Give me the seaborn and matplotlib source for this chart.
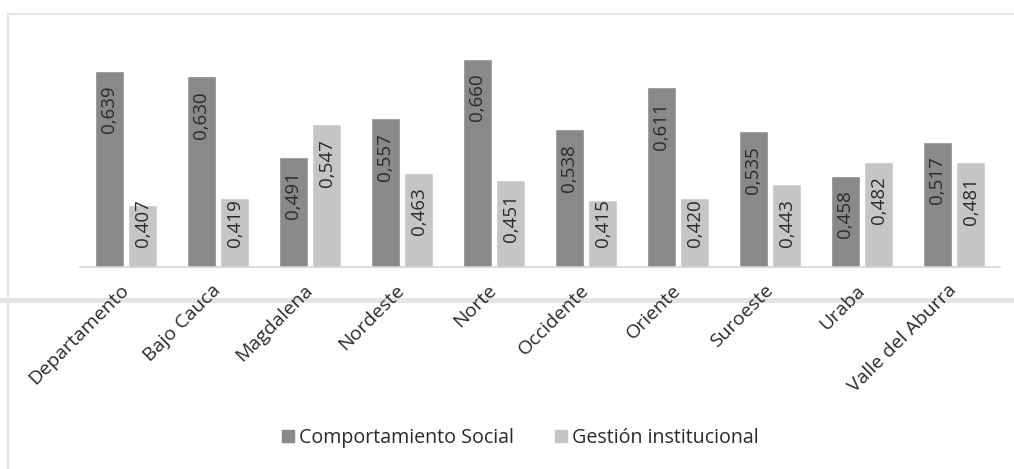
import matplotlib
matplotlib.use("Agg")
import matplotlib.pyplot as plt
import matplotlib.patches as mpatches
import matplotlib.lines as mlines
import pandas as pd
import seaborn as sns

# datos
regiones = ["Departamento", "Bajo Cauca", "Magdalena", "Nordeste", "Norte",
            "Occidente", "Oriente", "Suroeste", "Uraba", "Valle del Aburra"]
comportamiento = [0.639, 0.630, 0.491, 0.557, 0.660, 0.538, 0.611, 0.535, 0.458, 0.517]
gestion = [0.407, 0.419, 0.547, 0.463, 0.451, 0.415, 0.420, 0.443, 0.482, 0.481]
series = ["Comportamiento Social", "Gestión institucional"]

df = pd.DataFrame({
    "region": regiones * 2,
    "valor": comportamiento + gestion,
    "serie": [series[0]] * len(regiones) + [series[1]] * len(regiones),
})

sns.set_style("white")
plt.rcParams["font.family"] = ["Open Sans", "DejaVu Sans"]

fig = plt.figure(figsize=(10.14, 4.69), dpi=100)
ax = fig.add_axes([0.0789, 0.4313, 0.9073, 0.535])

sns.barplot(data=df, x="region", y="valor", hue="serie",
            palette=["#89898b", "#c5c5c5"], width=0.72, gap=0.1,
            saturation=1, ax=ax)

ax.set_ylim(0.3, 0.735)
ax.set_xlim(-0.5, 9.5)

# etiquetas dentro de las barras (como Excel: si no cabe, se sube)
y_min_label = 0.442
for cont, vals in zip(ax.containers, [comportamiento, gestion]):
    for bar, v in zip(cont, vals):
        ax.annotate(f"{v:.3f}".replace(".", ","),
                    (bar.get_x() + bar.get_width() / 2, max(v, y_min_label)),
                    xytext=(0, -10.5), textcoords="offset points",
                    rotation=90, ha="center", va="top",
                    fontsize=13.5, color="#2a2a2a")

ax.set_xlabel("")
ax.set_ylabel("")
ax.set_yticks([])
ax.tick_params(axis="x", length=0, pad=15)
ax.set_xticks(range(len(regiones)))
ax.set_xticklabels(regiones, rotation=45, ha="right", va="center",
                   rotation_mode="anchor", fontsize=14, color="#2a2a2a")
for s in ["top", "right", "left"]:
    ax.spines[s].set_visible(False)
ax.spines["bottom"].set_color("#d4d4d4")
ax.spines["bottom"].set_linewidth(1.2)

ax.get_legend().remove()
handles = [mpatches.Patch(color="#89898b", label=series[0]),
           mpatches.Patch(color="#c5c5c5", label=series[1])]
fig.legend(handles=handles, loc="center", bbox_to_anchor=(0.513, 0.066),
           ncol=2, frameon=False, fontsize=14.1, handlelength=0.6,
           handleheight=0.6, handletextpad=0.25, columnspacing=2.1,
           labelcolor="#2a2a2a")

# marco y linea gris de la imagen original
fig.add_artist(mlines.Line2D([8 / 1014, 1.0], [1 - 14 / 469] * 2,
                             color="#e6e6e6", lw=1.5, transform=fig.transFigure))
fig.add_artist(mlines.Line2D([8 / 1014] * 2, [0, 1 - 14 / 469],
                             color="#e6e6e6", lw=1.5, transform=fig.transFigure))
fig.add_artist(mlines.Line2D([0, 1], [1 - 300 / 469] * 2,
                             color="#e4e4e4", lw=3.5, transform=fig.transFigure,
                             zorder=-1))

fig.savefig("out.png", dpi=100, facecolor="white")
